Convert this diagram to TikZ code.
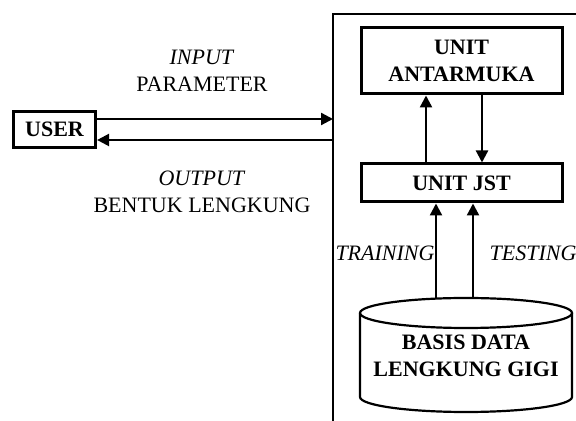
\documentclass[tikz,border=0pt]{standalone}
\usepackage{fontspec}
\setmainfont{Liberation Serif}
\usetikzlibrary{arrows.meta}

\begin{document}
\begin{tikzpicture}[x=0.5pt, y=0.5pt,
  unit/.style={rectangle, draw, line width=1.5pt, minimum width=100.5pt,
    minimum height=#1, inner sep=0pt, align=center,
    font=\fontsize{11}{13.5}\selectfont\bfseries},
  lbl/.style={inner sep=0pt, align=center, font=\fontsize{11}{13.5}\selectfont},
  arr/.style={-{Triangle[length=6pt,width=6pt]}, line width=1.15pt}
]
\useasboundingbox (0,0) rectangle (576,421);
% System frame
\draw[line width=1.3pt] (333,-2) |- (578,407);
\coordinate (sys) at (333,291.5);
% User
\node[unit=18pt, minimum width=41pt, line width=1.6pt] (user) at (54.5,291.5) {USER};
\draw[arr] ([yshift=5.25pt]user.east) -- ([yshift=5.25pt]user.east -| sys);
\draw[arr] ([yshift=-5.25pt]user.east -| sys) -- ([yshift=-5.25pt]user.east);
\node[lbl] (inp) at (202,350.5) {\textit{INPUT}\\PARAMETER};
\node[lbl] (outp) at (202,229.5) {\textit{OUTPUT}\\BENTUK LENGKUNG};
% Units inside the system
\node[unit=33pt] (ant) at (461.5,360) {UNIT\\ANTARMUKA};
\node[unit=19pt] (jst) at (461.5,238) {UNIT JST};
\draw[arr] ([xshift=-17.75pt]jst.north) -- ([xshift=-17.75pt]ant.south);
\draw[arr] ([xshift=10.25pt]ant.south) -- ([xshift=10.25pt]jst.north);
% Database
\draw[line width=1.1pt] (466,108) ellipse [x radius=53pt, y radius=7.5pt];
\draw[line width=1.1pt] (360,108) -- (360,24)
  arc[start angle=180, end angle=360, x radius=53pt, y radius=7.5pt] -- (572,108);
\node[lbl, font=\fontsize{11}{13.5}\selectfont\bfseries] (db) at (466,65) {BASIS DATA\\LENGKUNG GIGI};
\coordinate (dbtop) at (466,123);
\draw[arr] ([xshift=-15pt]dbtop) -- ([xshift=-15pt]dbtop |- jst.south);
\draw[arr] ([xshift=3.5pt]dbtop) -- ([xshift=3.5pt]dbtop |- jst.south);
\node[lbl, font=\fontsize{11}{13.5}\selectfont\itshape] (train) at (385,168) {TRAINING};
\node[lbl, font=\fontsize{11}{13.5}\selectfont\itshape] (test) at (533,168) {TESTING};
\end{tikzpicture}
\end{document}
